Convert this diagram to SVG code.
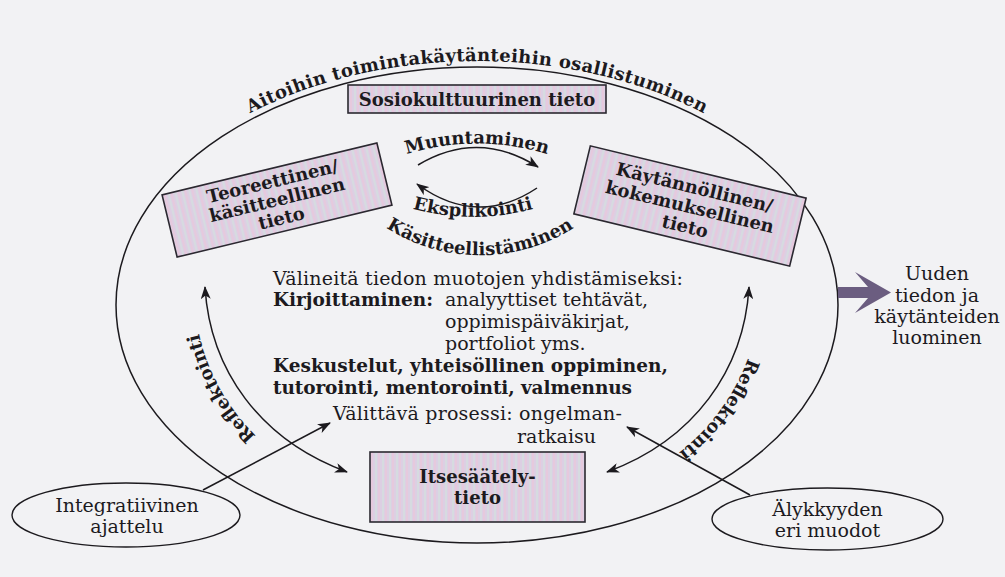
<svg xmlns="http://www.w3.org/2000/svg" width="1005" height="577" viewBox="0 0 1005 577">
  <defs>
    <pattern id="stripes" width="7" height="10" patternUnits="userSpaceOnUse">
      <rect width="7" height="10" fill="#dccfe3"/>
      <rect x="0" width="2" height="10" fill="#e6c9dd"/>
      <rect x="4" width="2" height="10" fill="#d6dbe0"/>
    </pattern>
    <marker id="ah" viewBox="0 0 13 10" refX="12" refY="5" markerWidth="13" markerHeight="10" markerUnits="userSpaceOnUse" orient="auto-start-reverse">
      <path d="M0,0 L13,5 L0,10 L3.5,5 Z" fill="#1c1a1e"/>
    </marker>
    <path id="tpTop" d="M 110 305 A 367 244 0 0 1 844 305"/>
    <path id="tpMuu" d="M 398 157 A 240 240 0 0 1 556 157"/>
    <path id="tpEks" d="M 410 208 A 229 229 0 0 0 536 208"/>
    <path id="tpKas" d="M 385 227 A 174 174 0 0 0 575 227"/>
    <path id="tpRefL" d="M 304 470 C 253 447, 197 380, 195 300"/>
    <path id="tpRefR" d="M 759 300 C 757 380, 701 447, 650 470"/>
  </defs>
  <style>
    text { font-family: "DejaVu Serif", "Liberation Serif", serif; fill: #1c1a1e; }
    .r { font-size: 19px; }
    .b { font-size: 18.5px; font-weight: bold; }
    .bx { font-size: 18px; font-weight: bold; text-anchor: middle; }
    .cb { font-size: 18px; font-weight: bold; }
    .c { text-anchor: middle; }
    .ln { fill: none; stroke: #1c1a1e; stroke-width: 1.5; }
    .ar { fill: none; stroke: #1c1a1e; stroke-width: 1.5; marker-end: url(#ah); }
    .ar2 { fill: none; stroke: #1c1a1e; stroke-width: 1.5; marker-start: url(#ah); marker-end: url(#ah); }
    .box { fill: url(#stripes); stroke: #2b2830; stroke-width: 1.6; }
    .ov { fill: none; stroke: #1c1a1e; stroke-width: 1.4; }
  </style>
  <rect width="1005" height="577" fill="#f2f2f4"/>

  <g id="frame">
    <ellipse class="ln" cx="477" cy="305" rx="361" ry="238"/>
    <text class="cb" font-size="19"><textPath href="#tpTop" startOffset="50%" text-anchor="middle" textLength="470">Aitoihin toimintakäytänteihin osallistuminen</textPath></text>
  </g>

  <g id="connectors">
    <path class="ar" d="M 418 165 Q 478 129 538 167"/>
    <path class="ar" d="M 537 188 Q 477 228 417 184"/>
    <path class="ar2" d="M 205 287 C 210 370, 260 440, 347 472"/>
    <path class="ar2" d="M 749 287 C 744 370, 694 440, 607 472"/>
    <path class="ar" d="M 203 490 L 330 423"/>
    <path class="ar" d="M 750 495 L 627 427"/>
    <path d="M 838 287 L 868 287 L 855 272 L 891 292.5 L 855 313 L 868 298 L 838 298 Z" fill="#6b5d80"/>
  </g>

  <g id="connector-labels">
    <text class="cb" font-size="19"><textPath href="#tpMuu" startOffset="50%" text-anchor="middle">Muuntaminen</textPath></text>
    <text class="cb"><textPath href="#tpEks" startOffset="50%" text-anchor="middle">Eksplikointi</textPath></text>
    <text class="cb"><textPath href="#tpKas" startOffset="50%" text-anchor="middle">Käsitteellistäminen</textPath></text>
    <text class="cb"><textPath href="#tpRefL" startOffset="56%" text-anchor="middle">Reflektointi</textPath></text>
    <text class="cb"><textPath href="#tpRefR" startOffset="56%" text-anchor="middle">Reflektointi</textPath></text>
  </g>

  <g id="node-sosiokulttuurinen">
    <rect class="box" x="348" y="85" width="258" height="28"/>
    <text class="bx" x="477" y="105.5">Sosiokulttuurinen tieto</text>
  </g>

  <g id="node-teoreettinen" transform="rotate(-13.6 277 200)">
    <rect class="box" x="166.5" y="168" width="221" height="64"/>
    <text class="bx" x="277" y="187">Teoreettinen/</text>
    <text class="bx" x="277" y="206">käsitteellinen</text>
    <text class="bx" x="277" y="225">tieto</text>
  </g>

  <g id="node-kaytannollinen" transform="rotate(13.6 690 206)">
    <rect class="box" x="579" y="171" width="222" height="70"/>
    <text class="bx" x="690" y="193">Käytännöllinen/</text>
    <text class="bx" x="690" y="213">kokemuksellinen</text>
    <text class="bx" x="690" y="233">tieto</text>
  </g>

  <g id="node-itsesaately">
    <rect class="box" x="370" y="452" width="215" height="70"/>
    <text class="bx" x="477.5" y="483">Itsesäätely-</text>
    <text class="bx" x="477.5" y="504">tieto</text>
  </g>

  <g id="node-valineita">
    <text class="r" x="273" y="285" textLength="410">Välineitä tiedon muotojen yhdistämiseksi:</text>
    <text class="b" x="273" y="306" textLength="160">Kirjoittaminen:</text>
    <text class="r" x="445" y="306" textLength="203">analyyttiset tehtävät,</text>
    <text class="r" x="445" y="328">oppimispäiväkirjat,</text>
    <text class="r" x="445" y="350">portfoliot yms.</text>
    <text class="b" x="273" y="372" textLength="395">Keskustelut, yhteisöllinen oppiminen,</text>
    <text class="b" x="273" y="394" textLength="359">tutorointi, mentorointi, valmennus</text>
    <text class="r" x="333" y="420" textLength="289">Välittävä prosessi: ongelman-</text>
    <text class="r" x="517" y="443">ratkaisu</text>
  </g>

  <g id="node-uuden">
    <text class="r c" x="937" y="280">Uuden</text>
    <text class="r c" x="937" y="302">tiedon ja</text>
    <text class="r c" x="937" y="323">käytänteiden</text>
    <text class="r c" x="937" y="344">luominen</text>
  </g>

  <g id="node-integratiivinen">
    <ellipse class="ov" cx="126" cy="515" rx="114" ry="32"/>
    <text class="r c" x="127" y="512">Integratiivinen</text>
    <text class="r c" x="127" y="533">ajattelu</text>
  </g>

  <g id="node-alykkyyden">
    <ellipse class="ov" cx="827.5" cy="519" rx="115.5" ry="31"/>
    <text class="r c" x="827.5" y="516">Älykkyyden</text>
    <text class="r c" x="827.5" y="537">eri muodot</text>
  </g>
</svg>
